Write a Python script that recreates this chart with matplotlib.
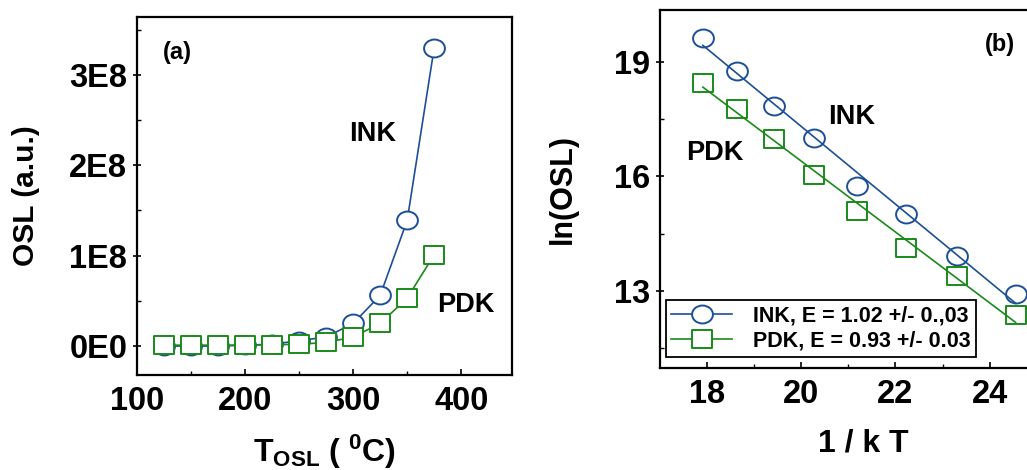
import numpy as np
import matplotlib
matplotlib.use("Agg")
import matplotlib.pyplot as plt
from matplotlib.path import Path
from matplotlib.transforms import Affine2D
from matplotlib.lines import Line2D

# ---------------- data ----------------
t_osl = [125, 150, 175, 200, 225, 250, 275, 300, 325, 350, 375]
osl_ink = [0.0, 0.0, 0.0, 0.01e8, 0.02e8, 0.06e8, 0.10e8, 0.25e8, 0.56e8, 1.39e8, 3.30e8]
osl_pdk = [0.01e8, 0.01e8, 0.01e8, 0.01e8, 0.015e8, 0.02e8, 0.04e8, 0.10e8, 0.25e8, 0.53e8, 1.01e8]

inv_kt = [17.91, 18.63, 19.42, 20.27, 21.19, 22.22, 23.31, 24.55]
ln_ink = [19.61, 18.76, 17.84, 17.01, 15.75, 15.00, 13.90, 12.91]
ln_pdk = [18.45, 17.75, 16.98, 16.03, 15.09, 14.13, 13.39, 12.37]

a_xticks = [100, 200, 300, 400]
a_yticks = [0, 1e8, 2e8, 3e8]
a_yticklabels = ["0E0", "1E8", "2E8", "3E8"]
b_xticks = [18, 20, 22, 24]
b_yticks = [13, 16, 19]

legend_ink = "INK, E = 1.02 +/- 0.,03"
legend_pdk = "PDK, E = 0.93 +/- 0.03"

BLUE = "#1c4f98"
GREEN = "#1a8a1a"

plt.rcParams['font.family'] = ['Liberation Sans', 'DejaVu Sans']
plt.rcParams['font.weight'] = 'bold'
plt.rcParams['mathtext.fontset'] = 'custom'
plt.rcParams['mathtext.rm'] = 'Liberation Sans:bold'
plt.rcParams['mathtext.bf'] = 'Liberation Sans:bold'
plt.rcParams['mathtext.it'] = 'Liberation Sans:bold'

# slightly squashed markers (original figure stretched horizontally)
ell = Path(Affine2D().scale(1.0, 0.86).transform(Path.unit_circle().vertices),
           Path.unit_circle().codes)
sq_verts = np.array([[-1, -1], [1, -1], [1, 1], [-1, 1], [-1, -1]], float)
sq = Path(Affine2D().scale(1.0, 0.88).transform(sq_verts),
          [Path.MOVETO, Path.LINETO, Path.LINETO, Path.LINETO, Path.CLOSEPOLY])

fig = plt.figure(figsize=(10.27, 4.70), dpi=100)

TICK_FS = 23.5
LABEL_FS = 21.5

def style_axes(ax):
    for s in ax.spines.values():
        s.set_linewidth(1.6)
    ax.tick_params(axis='both', which='major', labelsize=TICK_FS, width=1.2)
    ax.tick_params(axis='x', which='major', direction='in', length=4, pad=8)
    ax.tick_params(axis='x', which='minor', direction='in', length=3, width=1)
    ax.tick_params(axis='y', which='major', direction='inout', length=6, pad=4)
    ax.tick_params(axis='y', which='minor', direction='in', length=3, width=1)
    for lab in ax.get_xticklabels() + ax.get_yticklabels():
        lab.set_fontweight('bold')

# ---------------- panel (a) ----------------
axa = fig.add_axes([137/1027, 1-375/470, 375/1027, 358/470])
axa.plot(t_osl, osl_ink, color=BLUE, lw=1.2, marker=ell, ms=15, mfc='white',
         mec=BLUE, mew=1.4, zorder=2)
axa.plot(t_osl, osl_pdk, color=GREEN, lw=1.2, marker=sq, ms=14.5, mfc='white',
         mec=GREEN, mew=1.4, zorder=3)
axa.set_xlim(100, 447)
axa.set_ylim(-0.32e8, 3.64e8)
axa.set_xticks(a_xticks)
axa.set_xticks([150, 250, 350], minor=True)
axa.set_yticks(a_yticks)
axa.set_yticklabels(a_yticklabels)
axa.set_yticks([0.5e8, 1.5e8, 2.5e8, 3.5e8], minor=True)
style_axes(axa)
axa.set_ylabel("OSL (a.u.)", fontsize=LABEL_FS, fontweight='bold', labelpad=21)
axa.set_xlabel(r"T$_{\mathrm{OSL}}$ ( $^{\mathrm{0}}$C)", fontsize=LABEL_FS + 1.5,
               fontweight='bold', labelpad=11)
axa.text(137, 3.25e8, "(a)", fontsize=17, fontweight='bold', ha='center', va='center')
axa.text(318, 2.35e8, "INK", fontsize=19.5, fontweight='bold', ha='center', va='center')
axa.text(404, 0.45e8, "PDK", fontsize=19.5, fontweight='bold', ha='center', va='center')

# ---------------- panel (b) ----------------
axb = fig.add_axes([660/1027, 1-368/470, 8*47.1/1027, 358/470])
x_b = np.array(inv_kt)
p_ink = np.polyfit(x_b, ln_ink, 1)
p_pdk = np.polyfit(x_b, ln_pdk, 1)
xf = np.array([inv_kt[0], inv_kt[-1]])
axb.plot(xf, np.polyval(p_ink, xf), color=BLUE, lw=1.2, zorder=2)
axb.plot(xf, np.polyval(p_pdk, xf), color=GREEN, lw=1.2, zorder=2)
axb.plot(inv_kt, ln_ink, ls='none', marker=ell, ms=15, mfc='none', mec=BLUE, mew=1.4, zorder=3)
axb.plot(inv_kt, ln_pdk, ls='none', marker=sq, ms=14.5, mfc='none', mec=GREEN, mew=1.4, zorder=3)
axb.set_xlim(17, 25)
axb.set_ylim(10.98, 20.35)
axb.set_xticks(b_xticks)
axb.set_xticks([19, 21, 23], minor=True)
axb.set_yticks(b_yticks)
axb.set_yticks([11.5, 14.5, 17.5], minor=True)
style_axes(axb)
axb.set_ylabel("ln(OSL)", fontsize=LABEL_FS + 0.5, fontweight='bold', labelpad=26)
axb.set_xlabel("1 / k T", fontsize=LABEL_FS + 1.5, fontweight='bold', labelpad=12)
axb.xaxis.set_label_coords((863 - 660) / (8 * 47.1), -0.17)
axb.text(24.22, 19.44, "(b)", fontsize=17, fontweight='bold', ha='center', va='center')
axb.text(21.07, 17.54, "INK", fontsize=19.5, fontweight='bold', ha='center', va='center')
axb.text(18.17, 16.6, "PDK", fontsize=19.5, fontweight='bold', ha='center', va='center')

h1 = Line2D([], [], color=BLUE, lw=1.2, marker=ell, ms=15, mfc='white', mec=BLUE, mew=1.4)
h2 = Line2D([], [], color=GREEN, lw=1.2, marker=sq, ms=14.5, mfc='white', mec=GREEN, mew=1.4)
leg = fig.legend([h1, h2], [legend_ink, legend_pdk], loc='lower left',
                 bbox_to_anchor=(666/1027, 1-357/470), bbox_transform=fig.transFigure,
                 prop={'size': 15.5, 'weight': 'bold'}, frameon=True, fancybox=False,
                 edgecolor='black', framealpha=1, handlelength=2.8, handletextpad=1.0,
                 labelspacing=0.2, borderpad=0.25, borderaxespad=0, numpoints=1)
leg.get_frame().set_linewidth(1.3)

fig.savefig("out.png", dpi=100)
